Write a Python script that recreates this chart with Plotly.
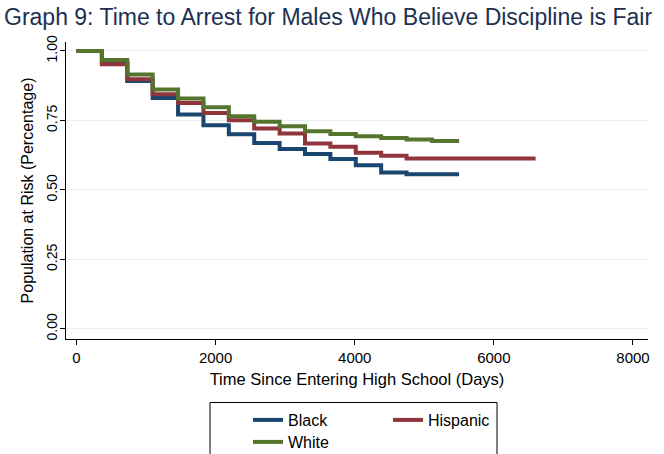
import plotly.graph_objects as go

# Kaplan-Meier survival estimates (share not yet arrested), annual steps
days = [0, 365, 730, 1095, 1460, 1825, 2190, 2555, 2920, 3285, 3650, 4015, 4380, 4745, 5110, 5500]
days_hispanic = days + [6600]

black = [1.0, 0.957, 0.892, 0.831, 0.771, 0.733, 0.700, 0.669, 0.647, 0.629,
         0.611, 0.589, 0.563, 0.556, 0.556, 0.556]
hispanic = [1.0, 0.952, 0.898, 0.844, 0.813, 0.777, 0.751, 0.721, 0.703, 0.667,
            0.655, 0.634, 0.623, 0.613, 0.613, 0.613, 0.613]
white = [1.0, 0.967, 0.915, 0.861, 0.829, 0.797, 0.765, 0.745, 0.729, 0.711,
         0.701, 0.693, 0.687, 0.681, 0.676, 0.676]

x_ticks = [0, 2000, 4000, 6000, 8000]
y_ticks = [0.0, 0.25, 0.50, 0.75, 1.00]

NAVY = "#1a476f"
MAROON = "#90353b"
FOREST = "#55752f"
FONT = "Liberation Sans, Arial, sans-serif"

W, H = 664, 454
L, R, T, B = 66, 16, 42, 115

fig = go.Figure()
fig.add_trace(go.Scatter(x=days, y=black, name="Black", mode="lines",
                         line=dict(color=NAVY, width=4, shape="hv"), legend="legend"))
fig.add_trace(go.Scatter(x=days_hispanic, y=hispanic, name="Hispanic", mode="lines",
                         line=dict(color=MAROON, width=4, shape="hv"), legend="legend"))
fig.add_trace(go.Scatter(x=days, y=white, name="White", mode="lines",
                         line=dict(color=FOREST, width=4, shape="hv"), legend="legend2"))

# frame around the two legend rows
pw, ph = W - L - R, H - T - B
def px_x(v):
    return (v - L) / pw
def px_y(v):
    return (H - B - v) / ph

fig.add_shape(type="rect", xref="paper", yref="paper",
              x0=px_x(210), x1=px_x(497), y0=px_y(470), y1=px_y(402.5),
              line=dict(color="black", width=1), fillcolor="rgba(0,0,0,0)")

legend_common = dict(orientation="h", xref="container", yref="container",
                     xanchor="left", yanchor="middle", borderwidth=0,
                     bgcolor="rgba(0,0,0,0)",
                     font=dict(family=FONT, size=16, color="black"),
                     entrywidth=95, entrywidthmode="pixels")

fig.update_layout(
    width=W, height=H,
    margin=dict(l=L, r=R, t=T, b=B),
    paper_bgcolor="white", plot_bgcolor="white",
    font=dict(family=FONT, color="black"),
    title=dict(text="Graph 9: Time to Arrest for Males Who Believe Discipline is Fair",
               xref="container", yref="container", x=4 / W, y=1 - 17 / H,
               xanchor="left", yanchor="middle",
               font=dict(family=FONT, size=23, color="#1c3152")),
    legend=dict(x=248 / W, y=1 - 420 / H, **legend_common),
    legend2=dict(x=248 / W, y=1 - 442 / H, **legend_common),
    xaxis=dict(range=[-151, 8216], tickvals=x_ticks, ticktext=[str(v) for v in x_ticks],
               showgrid=False, zeroline=False, showline=True, linecolor="black", linewidth=1,
               ticks="outside", ticklen=5, tickcolor="black",
               tickfont=dict(family=FONT, size=15, color="black"),
               title=dict(text="Time Since Entering High School (Days)",
                          font=dict(family=FONT, size=16.5, color="black"), standoff=8)),
    yaxis=dict(range=[-0.036, 1.032], tickvals=y_ticks, tickformat=".2f",
               showgrid=True, gridcolor="#e6eef0", gridwidth=1,
               zeroline=False, showline=True, linecolor="black", linewidth=1,
               ticks="outside", ticklen=5, tickcolor="black", tickangle=-90,
               ticklabelstandoff=-3,
               tickfont=dict(family=FONT, size=14, color="black"),
               title=dict(text="Population at Risk (Percentage)",
                          font=dict(family=FONT, size=16, color="black"), standoff=6)),
)

fig.write_html("out.html")
